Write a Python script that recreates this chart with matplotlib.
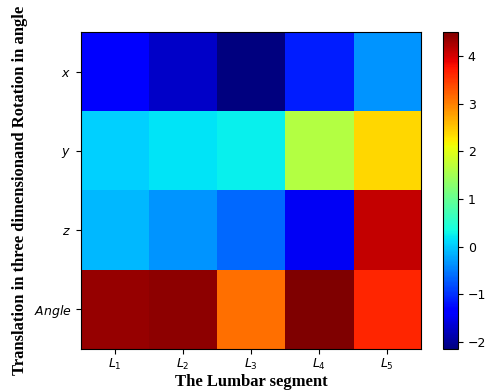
import matplotlib
matplotlib.use("Agg")
import matplotlib.pyplot as plt
import numpy as np

segments = ["$L_1$", "$L_2$", "$L_3$", "$L_4$", "$L_5$"]
components = ["$x$", "$y$", "$z$", "$Angle$"]
row_x = [-1.35, -1.71, -2.15, -1.13, -0.34]
row_y = [0.05, 0.18, 0.26, 1.62, 2.39]
row_z = [-0.12, -0.34, -0.63, -1.45, 4.09]
row_angle = [4.37, 4.41, 3.10, 4.50, 3.62]

data = np.array([row_x, row_y, row_z, row_angle])

fig = plt.figure(figsize=(4.86, 3.91), dpi=100)
ax = fig.add_axes([81/486, 1-349/391, 340/486, 317/391])
cax = fig.add_axes([443/486, 1-349/391, 15/486, 317/391])

im = ax.imshow(data, cmap="jet", aspect="auto", interpolation="nearest")
ax.set_xticks(range(len(segments)))
ax.set_xticklabels(segments, fontsize=9)
ax.set_yticks(range(len(components)))
ax.set_yticklabels(components, fontsize=9)
ax.tick_params(axis="x", pad=2.5)
ax.set_xlabel("The Lumbar segment", family="Liberation Serif", fontweight="bold", fontsize=12,
              labelpad=1)
ax.set_ylabel("Translation in three dimensionand Rotation in angle", family="Liberation Serif",
              fontweight="bold", fontsize=12)

cb = fig.colorbar(im, cax=cax)
cb.set_ticks([-2, -1, 0, 1, 2, 3, 4])
cb.ax.tick_params(labelsize=9)

fig.savefig("out.png", dpi=100)
